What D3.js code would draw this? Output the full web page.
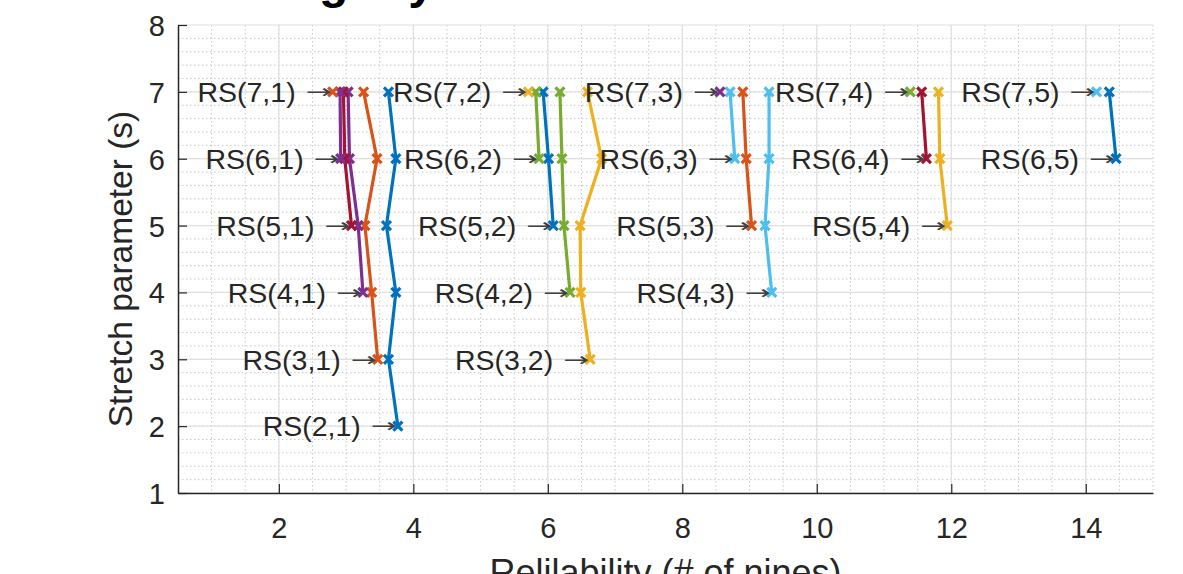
<!DOCTYPE html>
<html>
<head>
<meta charset="utf-8">
<script src="https://cdn.jsdelivr.net/npm/d3@7"></script>
<style>
  html, body { margin: 0; padding: 0; background: #fff; }
  svg { display: block; font-family: "Liberation Sans", Arial, sans-serif; }
</style>
</head>
<body>
<svg id="chart" width="1183" height="574"></svg>
<script>
// ---- data ----
var xTicks = [2, 4, 6, 8, 10, 12, 14];
var yTicks = [1, 2, 3, 4, 5, 6, 7, 8];
// series in plot order: RS(s0,k), each runs from s = s0 up to s = 7
var seriesLabels = ["RS(2,1)", "RS(3,1)", "RS(3,2)", "RS(4,1)", "RS(4,2)", "RS(4,3)",
  "RS(5,1)", "RS(5,2)", "RS(5,3)", "RS(5,4)",
  "RS(6,1)", "RS(6,2)", "RS(6,3)", "RS(6,4)", "RS(6,5)",
  "RS(7,1)", "RS(7,2)", "RS(7,3)", "RS(7,4)", "RS(7,5)"];
var seriesStart = [2, 3, 3, 4, 4, 4, 5, 5, 5, 5, 6, 6, 6, 6, 6, 7, 7, 7, 7, 7];
var seriesNines = [
  [3.77, 3.63, 3.74, 3.60, 3.74, 3.63],
  [3.47, 3.38, 3.28, 3.46, 3.26],
  [6.63, 6.49, 6.48, 6.80, 6.59],
  [3.25, 3.18, 3.05, 3.03],
  [6.33, 6.24, 6.21, 6.18],
  [9.33, 9.23, 9.29, 9.29],
  [3.08, 2.98, 2.96],
  [6.08, 6.01, 5.93],
  [9.03, 8.95, 8.90],
  [11.94, 11.83, 11.81],
  [2.92, 2.91],
  [5.87, 5.82],
  [8.78, 8.71],
  [11.63, 11.56],
  [14.45, 14.35],
  [2.80],
  [5.71],
  [8.56],
  [11.39],
  [14.16]
];
// MATLAB default colour order
var palette = ["#0072bd", "#d95319", "#edb120", "#7e2f8e", "#77ac30", "#4dbeee", "#a2142f"];

// ---- layout ----
var svg = d3.select("#chart");
var L = 178, R = 1153, T = 25, B = 493;
var x = d3.scaleLinear().domain([0.5, 15]).range([L, R]);
var y = d3.scaleLinear().domain([1, 8]).range([B, T]);
var ink = "#262626";

// ---- grid ----
var g = svg.append("g");
g.selectAll("line.xminor").data(d3.range(1, 15.01, 0.5)).join("line")
  .attr("x1", function (d) { return x(d); }).attr("x2", function (d) { return x(d); })
  .attr("y1", T).attr("y2", B).attr("stroke", "#c8c8c8").attr("stroke-width", 1).attr("stroke-dasharray", "1.5,2.5");
g.selectAll("line.yminor").data(d3.range(1.2, 8, 0.2)).join("line")
  .attr("y1", function (d) { return y(d); }).attr("y2", function (d) { return y(d); })
  .attr("x1", L).attr("x2", R).attr("stroke", "#c8c8c8").attr("stroke-width", 1).attr("stroke-dasharray", "1.5,2.5");
g.selectAll("line.xmajor").data(xTicks).join("line")
  .attr("x1", function (d) { return x(d); }).attr("x2", function (d) { return x(d); })
  .attr("y1", T).attr("y2", B).attr("stroke", "#e0e0e0").attr("stroke-width", 1.2);
g.selectAll("line.ymajor").data(yTicks).join("line")
  .attr("y1", function (d) { return y(d); }).attr("y2", function (d) { return y(d); })
  .attr("x1", L).attr("x2", R).attr("stroke", "#e0e0e0").attr("stroke-width", 1.2);

// ---- axes ----
var xAxis = d3.axisBottom(x).tickValues(xTicks).tickFormat(d3.format("d")).tickSizeInner(-9).tickSizeOuter(0).tickPadding(24);
var yAxis = d3.axisLeft(y).tickValues(yTicks).tickFormat(d3.format("d")).tickSizeInner(-9).tickSizeOuter(0).tickPadding(13);
var gx = svg.append("g").attr("transform", "translate(0," + B + ")").call(xAxis);
var gy = svg.append("g").attr("transform", "translate(" + L + ",0)").call(yAxis);
[gx, gy].forEach(function (a) {
  a.attr("font-size", 29).attr("font-family", "Liberation Sans, Arial, sans-serif");
  a.select(".domain").attr("stroke", ink).attr("stroke-width", 1.5);
  a.selectAll(".tick line").attr("stroke", ink).attr("stroke-width", 1.2);
  a.selectAll(".tick text").attr("fill", ink);
});
gy.selectAll(".tick text").attr("dy", "0.36em");

// axis titles
svg.append("text").attr("x", (L + R) / 2).attr("y", 585).attr("text-anchor", "middle")
  .attr("font-size", 36).attr("fill", ink).text("Relilability (# of nines)");
svg.append("text").attr("transform", "translate(132," + ((T + B) / 2 + 10) + ") rotate(-90)").attr("text-anchor", "middle")
  .attr("font-size", 33.5).attr("fill", ink).text("Stretch parameter (s)");
// title, mostly above the visible area
svg.append("text").attr("x", 199).attr("y", -2).attr("font-size", 48).attr("font-weight", "bold")
  .attr("letter-spacing", 4).attr("fill", "#000").text("Category");

// ---- series ----
var line = d3.line().x(function (d) { return x(d.v); }).y(function (d) { return y(d.s); });
var cross = "M-4.5,-4.5L4.5,4.5M-4.5,4.5L4.5,-4.5";
var plot = svg.append("g");
seriesNines.forEach(function (vals, i) {
  var pts = vals.map(function (v, j) { return { s: seriesStart[i] + j, v: v }; });
  var col = palette[i % palette.length];
  var sg = plot.append("g");
  sg.append("path").datum(pts).attr("d", line).attr("fill", "none").attr("stroke", col).attr("stroke-width", 3.2).attr("stroke-linejoin", "round");
  sg.selectAll("path.mk").data(pts).join("path").attr("class", "mk")
    .attr("transform", function (d) { return "translate(" + x(d.v) + "," + y(d.s) + ")"; })
    .attr("d", cross).attr("stroke", col).attr("stroke-width", 3.2).attr("fill", "none");
});

// ---- labels with arrows pointing at each series' first point ----
var lab = svg.append("g");
seriesLabels.forEach(function (t, i) {
  var px = x(seriesNines[i][0]) - 1, py = y(seriesStart[i]);
  lab.append("text").attr("x", px).attr("y", py).attr("dy", "0.33em").attr("text-anchor", "end")
    .attr("font-family", "DejaVu Sans").attr("font-size", 19).attr("fill", "#404040")
    .attr("textLength", 26).attr("lengthAdjust", "spacingAndGlyphs").text("→");
  lab.append("text").attr("x", px - 36).attr("y", py).attr("dy", "0.36em").attr("text-anchor", "end")
    .attr("font-size", 28.5).attr("fill", ink).text(t);
});
</script>
</body>
</html>
